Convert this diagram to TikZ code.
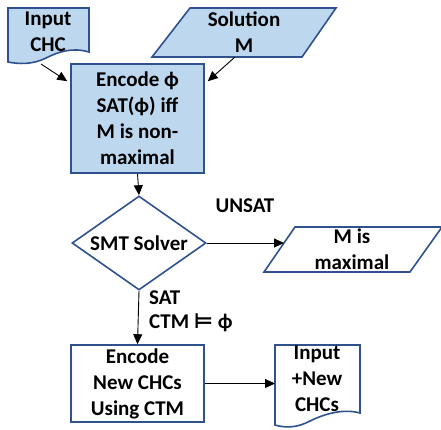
\documentclass[tikz,border=0pt]{standalone}
\usepackage{fontspec}
\setmainfont{Carlito}
\newfontfamily\symfont{DejaVu Sans}
\usetikzlibrary{arrows.meta,calc,shapes.geometric}
\definecolor{lblue}{HTML}{BDD7EE}
\definecolor{bblue}{HTML}{2F528F}
\begin{document}
\begin{tikzpicture}[x=1pt,y=-1pt,
 shapeline/.style={draw=bblue,line width=1.6pt},
 txt/.style={font=\fontsize{21}{26}\selectfont\bfseries,align=center,inner sep=0pt},
 boxnode/.style={shapeline,txt,minimum width=133pt},
 conn/.style={-{Triangle[length=10pt,width=9pt]},line width=0.9pt}]
\useasboundingbox (0,0) rectangle (441,429);
% Input CHC document
\path[shapeline,fill=lblue] (8,8) -- (89,8) -- (89,52) .. controls (72,47) and (58,52) .. (46,58) .. controls (32,65) and (18,64) .. (8,62) -- cycle;
\node[txt] (chc) at (48,32) {Input\\CHC};
\coordinate (chcout) at (41,64);
% Solution M
\path[shapeline,fill=lblue] (190,8) -- (336,8) -- (302,57) -- (152,57) -- cycle;
\node[txt] (sol) at (244,32) {Solution\\M};
\coordinate (solout) at (235,57);
% Encode phi
\node[boxnode,fill=lblue,minimum height=109pt] (enc) at (137.5,118.5) {Encode ϕ\\SAT(ϕ) iff\\M is non-\\maximal};
% diamond
\node[diamond,shapeline,fill=white,minimum width=134pt,minimum height=94pt,inner sep=0pt] (smt) at (139,243) {};
\node[txt] (smtt) at (smt.center) {SMT Solver};
\node[txt] (unsat) at (245,206) {UNSAT};
% M is maximal
\path[shapeline,fill=white] (295,227) -- (442,227) -- (410,272) -- (264,272) -- cycle;
\node[txt] (mx) at (352,249) {M is\\maximal};
\coordinate (mxin) at (284,243);
% SAT labels
\node[txt,anchor=west] (sat) at (149,298) {SAT};
\node[txt,anchor=west] (ctm) at (149,323) {CTM {\symfont ⊨} ϕ};
% Encode new CHCs
\node[boxnode,fill=white,minimum height=77pt] (new) at (137.5,383.5) {Encode\\New CHCs\\Using CTM};
% Input + New CHCs document
\path[shapeline,fill=white] (275,345) -- (360,345) -- (360,413) .. controls (342,408) and (322,415) .. (310,421) .. controls (297,428) and (285,428) .. (275,425) -- cycle;
\node[txt] (doc) at (317,379) {Input\\+New\\CHCs};
\coordinate (docin) at (275,383.5);
% connectors
\draw[conn] (chcout) -- ($(enc.north west)+(-3,18)$);
\draw[conn] (solout) -- ($(enc.north east)+(3,18)$);
\draw[conn] (enc.south) -- (smt.north);
\draw[conn] (smt.east) -- (mxin);
\draw[conn] (smt.south) -- (new.north);
\draw[conn] (new.east) -- (docin);
\end{tikzpicture}
\end{document}
